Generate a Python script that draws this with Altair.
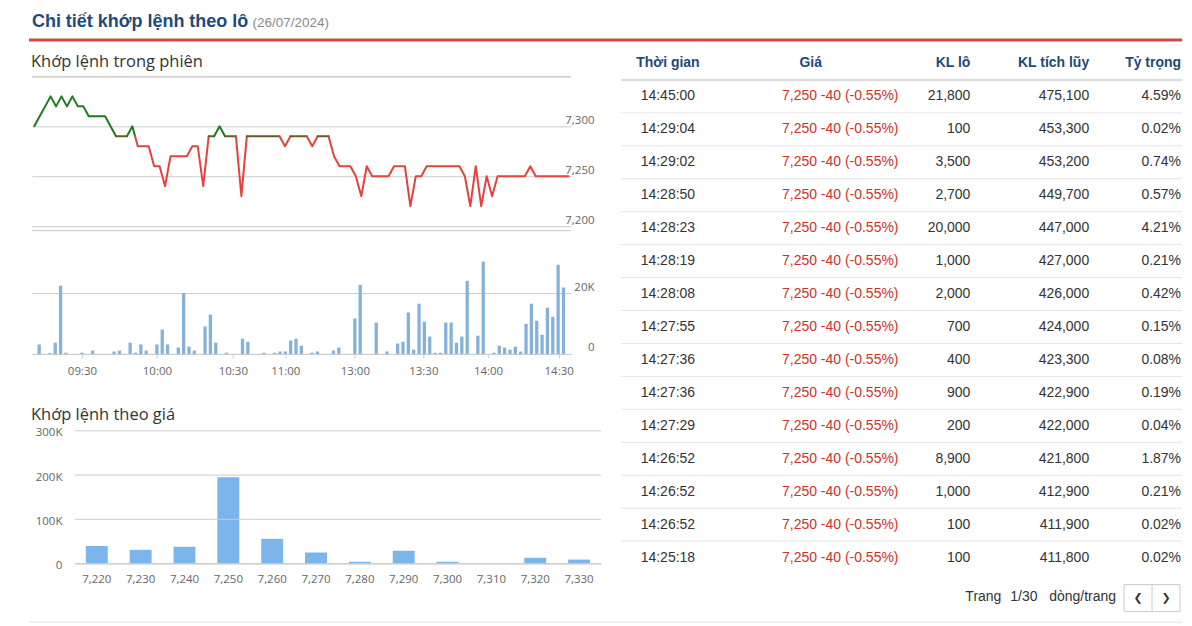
import altair as alt
import pandas as pd

# ---------------- data ----------------
TITLE = "Chi tiết khớp lệnh theo lô"
DATE = "(26/07/2024)"
SEC1 = "Khớp lệnh trong phiên"
SEC2 = "Khớp lệnh theo giá"
REF_PRICE = 7290

# intraday price per trading minute (ordinal index 0..98)
prices = [7300, 7310, 7320, 7330, 7320, 7330, 7320, 7330, 7320, 7320,
          7310, 7310, 7310, 7310, 7300, 7290, 7290, 7290, 7300, 7280,
          7280, 7280, 7260, 7260, 7240, 7270, 7270, 7270, 7270, 7280,
          7280, 7240, 7290, 7290, 7300, 7290, 7290, 7290, 7230, 7290,
          7290, 7290, 7290, 7290, 7290, 7290, 7280, 7290, 7290, 7290,
          7290, 7280, 7290, 7290, 7290, 7270, 7260, 7260, 7260, 7250,
          7230, 7260, 7250, 7250, 7250, 7250, 7260, 7260, 7260, 7220,
          7250, 7250, 7260, 7260, 7260, 7260, 7260, 7260, 7260, 7250,
          7220, 7260, 7220, 7250, 7230, 7250, 7250, 7250, 7250, 7250,
          7250, 7260, 7250, 7250, 7250, 7250, 7250, 7250, 7250]

volumes = [3100, 0, 300, 3700, 22400, 400, 0, 0, 400, 0,
           1100, 0, 0, 0, 800, 1100, 0, 3700, 400, 3100,
           1100, 0, 3100, 8000, 3100, 0, 2100, 20000, 2400, 1100,
           0, 9000, 12900, 3700, 0, 400, 0, 0, 5000, 4000,
           0, 0, 400, 0, 400, 800, 800, 4400, 5000, 2700,
           0, 400, 800, 0, 0, 1100, 2100, 0, 0, 11600,
           22700, 0, 0, 10300, 0, 800, 0, 3400, 4000, 13600,
           1400, 16500, 10600, 5700, 400, 400, 10300, 10300, 3700, 5700,
           24000, 0, 6000, 30300, 0, 400, 2700, 2100, 1400, 2400,
           800, 9900, 16500, 10900, 6300, 15200, 12200, 29300, 21800]

time_tick_pos = [8.0, 22.0, 36.2, 46.0, 59.0, 71.8, 83.9, 97.1]
time_tick_labels = ["09:30", "10:00", "10:30", "11:00", "13:00", "13:30", "14:00", "14:30"]

level_prices = [7220, 7230, 7240, 7250, 7260, 7270, 7280, 7290, 7300, 7310, 7320, 7330]
level_volumes = [40000, 31000, 38000, 195000, 56000, 25000, 4000, 29000, 4000, 0, 13000, 9000]
level_ticks = [0, 100000, 200000, 300000]

col_headers = ["Thời gian", "Giá", "KL lô", "KL tích lũy", "Tỷ trọng"]
tbl_time = ["14:45:00", "14:29:04", "14:29:02", "14:28:50", "14:28:23", "14:28:19",
            "14:28:08", "14:27:55", "14:27:36", "14:27:36", "14:27:29", "14:26:52",
            "14:26:52", "14:26:52", "14:25:18"]
tbl_price = [7250] * 15
tbl_change = [-40] * 15
tbl_pct = [-0.55] * 15
tbl_lot = [21800, 100, 3500, 2700, 20000, 1000, 2000, 700, 400, 900, 200, 8900, 1000, 100, 100]
tbl_cum = [475100, 453300, 453200, 449700, 447000, 427000, 426000, 424000, 423300,
           422900, 422000, 421800, 412900, 411900, 411800]
tbl_weight = [4.59, 0.02, 0.74, 0.57, 4.21, 0.21, 0.42, 0.15, 0.08, 0.19, 0.04, 1.87, 0.21, 0.02, 0.02]
pager = ["Trang", "1/30", "dòng/trang"]
buttons = ["❮", "❯"]

# ---------------- styles ----------------
NAVY = "#1d4a7a"
RED_LINE = "#d14b3f"
GREEN = "#1e7b1e"
RED = "#e2433c"
OLIVE = "#6b5b22"
GRID = "#cccccc"
LBL = "#666666"
TXT = "#333333"
RED_TXT = "#d0302a"
VOL_BLUE = "#85b2da"
BAR_BLUE = "#7cb5ec"
AX_FONT = "Open Sans"
TB_FONT = "Liberation Sans"

one = pd.DataFrame({"v": [0]})


def label_text(text, x, y, size=16.5, color=TXT, font=AX_FONT, weight="normal", baseline="middle"):
    return alt.Chart(pd.DataFrame({"t": [text]})).mark_text(
        align="left", baseline=baseline, font=font, fontSize=size, fontWeight=weight, color=color
    ).encode(x=alt.value(x), y=alt.value(y), text="t:N")


# ---------------- price line with zones around reference ----------------
pieces = []
for i in range(len(prices) - 1):
    y0, y1 = prices[i], prices[i + 1]
    if (y0 - REF_PRICE) * (y1 - REF_PRICE) < 0:
        xc = i + (REF_PRICE - y0) / (y1 - y0)
        pieces += [(i, y0, xc, REF_PRICE), (xc, REF_PRICE, i + 1, y1)]
    else:
        pieces.append((i, y0, i + 1, y1))
rows = []
seg = -1
last_zone = None
for a, b, c, d in pieces:
    mid = (b + d) / 2
    zone = "up" if mid > REF_PRICE else ("down" if mid < REF_PRICE else "flat")
    if zone != last_zone:
        seg += 1
        rows.append({"seg": seg, "x": a, "y": b, "zone": zone})
        last_zone = zone
    rows.append({"seg": seg, "x": c, "y": d, "zone": zone})
seg_df = pd.DataFrame(rows)

W_L = 540
W_COL = 570
xs = alt.Scale(domain=[-0.42, 98.48], nice=False, zero=False)

line = alt.Chart(seg_df).mark_line(strokeWidth=2, strokeJoin="round", strokeCap="round").encode(
    x=alt.X("x:Q", scale=xs, axis=None),
    y=alt.Y("y:Q", scale=alt.Scale(domain=[7196, 7350], nice=False, zero=False),
            axis=alt.Axis(orient="right", values=[7200, 7250, 7300], format=",d", title=None,
                          grid=True, gridColor=GRID, domain=False, ticks=False, tickSize=0,
                          labelPadding=23, labelAlign="right", labelBaseline="middle", labelOffset=-6,
                          labelFont=AX_FONT, labelFontSize=11.5, labelColor=LBL, labelFlush=False)),
    color=alt.Color("zone:N", scale=alt.Scale(domain=["up", "down", "flat"], range=[GREEN, RED, OLIVE]),
                    legend=None),
    detail="seg:N",
    order="x:Q",
)
underline = alt.Chart(one).mark_rule(color="#b4b4b4").encode(
    x=alt.value(0), x2=alt.value(W_L), y=alt.value(0.5))
red_rule = alt.Chart(one).mark_rule(color=RED_LINE, strokeWidth=3).encode(
    x=alt.value(-3), x2=alt.value(1152), y=alt.value(-36.5))
price_cell = alt.layer(
    line, underline, red_rule,
    label_text(TITLE, 0, -49.2, size=18, color=NAVY, font=TB_FONT, weight="bold", baseline="alphabetic"),
    label_text(DATE, 221, -49.2, size=13.5, color="#8a8a8a", font=TB_FONT, baseline="alphabetic"),
    label_text(SEC1, -1, -14),
).properties(width=W_L, height=154)

# ---------------- volume bars ----------------
label_expr = " : ".join(
    [f"abs(datum.value - {p}) < 0.01 ? '{l}'" for p, l in zip(time_tick_pos, time_tick_labels)]) + " : ''"
vol_df = pd.DataFrame({"idx": list(range(len(volumes))), "vol": volumes})
vbars = alt.Chart(vol_df).mark_bar(size=3.3, color=VOL_BLUE).encode(
    x=alt.X("idx:Q", scale=xs,
            axis=alt.Axis(values=time_tick_pos, labelExpr=label_expr, title=None, grid=False,
                          offset=-77, domain=True, domainColor=GRID, ticks=True, tickSize=4,
                          tickColor=GRID, labelPadding=8, labelFont=AX_FONT, labelFontSize=11.5,
                          labelColor=LBL, labelFlush=False)),
    y=alt.Y("vol:Q", scale=alt.Scale(domain=[-25243, 40650], nice=False, zero=False),
            axis=alt.Axis(orient="right", values=[0, 20000], title=None,
                          labelExpr="datum.value == 0 ? '0' : format(datum.value / 1000, 'd') + 'K'",
                          grid=True, gridColor=GRID, domain=False, ticks=False, tickSize=0,
                          labelPadding=23, labelAlign="right", labelBaseline="middle", labelOffset=-6,
                          labelFont=AX_FONT, labelFontSize=11.5, labelColor=LBL, labelFlush=False)),
    y2=alt.Y2(datum=0),
)
vtop = alt.Chart(one).mark_rule(color=GRID).encode(x=alt.value(0), x2=alt.value(W_L), y=alt.value(0.5))
vol_cell = alt.layer(vbars, vtop).properties(width=W_L, height=201)

# ---------------- volume by price ----------------
lvl_df = pd.DataFrame({"price": level_prices, "vol": level_volumes})
ly = alt.Scale(domain=[0, 300000], nice=False)
ly_axis = alt.Axis(values=level_ticks, title=None, offset=-43,
                   labelExpr="datum.value == 0 ? '0' : format(datum.value / 1000, 'd') + 'K'",
                   grid=False, domain=False, ticks=False, tickSize=0,
                   labelPadding=13, labelFont=AX_FONT, labelFontSize=11.5, labelColor=LBL,
                   labelFlush=False, labelOffset=2)
lvl_bars = alt.Chart(lvl_df).mark_bar(color=BAR_BLUE).encode(
    x=alt.X("price:O", scale=alt.Scale(range=[43, W_COL], paddingInner=0.5, paddingOuter=0.25),
            axis=alt.Axis(title=None, labelExpr="format(datum.value, ',')", labelAngle=0,
                          domain=True, domainColor=GRID, ticks=False, labelPadding=10,
                          labelFont=AX_FONT, labelFontSize=11.5, labelColor=LBL)),
    y=alt.Y("vol:Q", scale=ly, axis=ly_axis),
)
lvl_grid = alt.Chart(pd.DataFrame({"vol": level_ticks})).mark_rule(color=GRID).encode(
    x=alt.value(43), x2=alt.value(W_COL), y=alt.Y("vol:Q", scale=ly, axis=ly_axis))
bar_cell = alt.layer(lvl_bars, lvl_grid, label_text(SEC2, -1, -16)).properties(width=W_COL, height=133)

# ---------------- table (split in three row bands) ----------------
W_T = 564
tbl_df = pd.DataFrame({
    "row": list(range(1, 16)),
    "time": tbl_time,
    "price": [f"{p:,} {c} ({q:.2f}%)" for p, c, q in zip(tbl_price, tbl_change, tbl_pct)],
    "lot": [f"{v:,}" for v in tbl_lot],
    "cum": [f"{v:,}" for v in tbl_cum],
    "w": [f"{v:.2f}%" for v in tbl_weight],
})
cols = [("time", 49, "center", 49, "center", TXT),
        ("price", 192, "center", 280, "right", RED_TXT),
        ("lot", 352, "right", 352, "right", TXT),
        ("cum", 471, "right", 471, "right", TXT),
        ("w", 563, "right", 563, "right", TXT)]

BOTTOM_ROW = 16.96


def table_part(lo, hi, d0, d1, height):
    ys = alt.Scale(domain=[d0, d1], reverse=True, nice=False, zero=False)
    flt = f"datum.row >= {lo} && datum.row < {hi}"

    def y():
        return alt.Y("row:Q", scale=ys, axis=None)

    def txt(df, field, x, align, color, weight="normal", size=14, font=TB_FONT):
        return alt.Chart(df).transform_filter(flt).mark_text(
            align=align, baseline="middle", font=font, fontSize=size, fontWeight=weight, color=color
        ).encode(x=alt.value(x), y=y(), text=f"{field}:N")

    layers = [
        alt.Chart(pd.DataFrame({"row": [0.5]})).transform_filter(flt).mark_rule(
            color="#dddddd", strokeWidth=2.5).encode(x=alt.value(2), x2=alt.value(W_T), y=y()),
        alt.Chart(pd.DataFrame({"row": [k + 0.5 for k in range(1, 15)]})).transform_filter(flt).mark_rule(
            color="#e6e6e6").encode(x=alt.value(2), x2=alt.value(W_T), y=y()),
        alt.Chart(pd.DataFrame({"row": [BOTTOM_ROW]})).transform_filter(flt).mark_rule(
            color="#e3e3e3").encode(x=alt.value(-591), x2=alt.value(W_T), y=y()),
        alt.Chart(pd.DataFrame({"row": [15.82], "row2": [16.64]})).transform_filter(flt).mark_rect(
            fill="white", stroke="#cccccc").encode(
            x=alt.value(506), x2=alt.value(562), y=y(), y2="row2:Q"),
        alt.Chart(pd.DataFrame({"row": [15.82], "row2": [16.64]})).transform_filter(flt).mark_rule(
            color="#cccccc").encode(x=alt.value(534), y=y(), y2="row2:Q"),
    ]
    for (field, hx, ha, vx, va, color), name in zip(cols, col_headers):
        layers.append(txt(pd.DataFrame({"row": [0], "name": [name]}), "name", hx, ha, NAVY, weight="bold"))
        layers.append(txt(tbl_df, field, vx, va, color))
    for t, x in zip(pager, [347, 392, 431]):
        layers.append(txt(pd.DataFrame({"row": [16.2], "t": [t]}), "t", x, "left", TXT))
    for t, x in zip(buttons, [520, 548]):
        layers.append(txt(pd.DataFrame({"row": [16.23], "t": [t]}), "t", x, "center", TXT,
                          size=11, font="DejaVu Sans"))
    return alt.layer(*layers).properties(width=W_T, height=height)


tA = table_part(-1, 5.0606, 0.3939, 5.0606, 154)
tB = table_part(5.0606, 11.1515, 5.0606, 11.1515, 201)
tC = table_part(11.1515, 100, 11.1515, 16.9697, 192)

chart = alt.concat(
    price_cell, tA, vol_cell, tB, bar_cell, tC,
    columns=2, spacing={"row": 0, "column": 18}, bounds="flush",
).properties(
    padding={"left": 19, "top": 4, "right": 0, "bottom": 0}
).configure_view(stroke=None)

chart.save("out.html", embed_options={"renderer": "svg", "actions": False})
